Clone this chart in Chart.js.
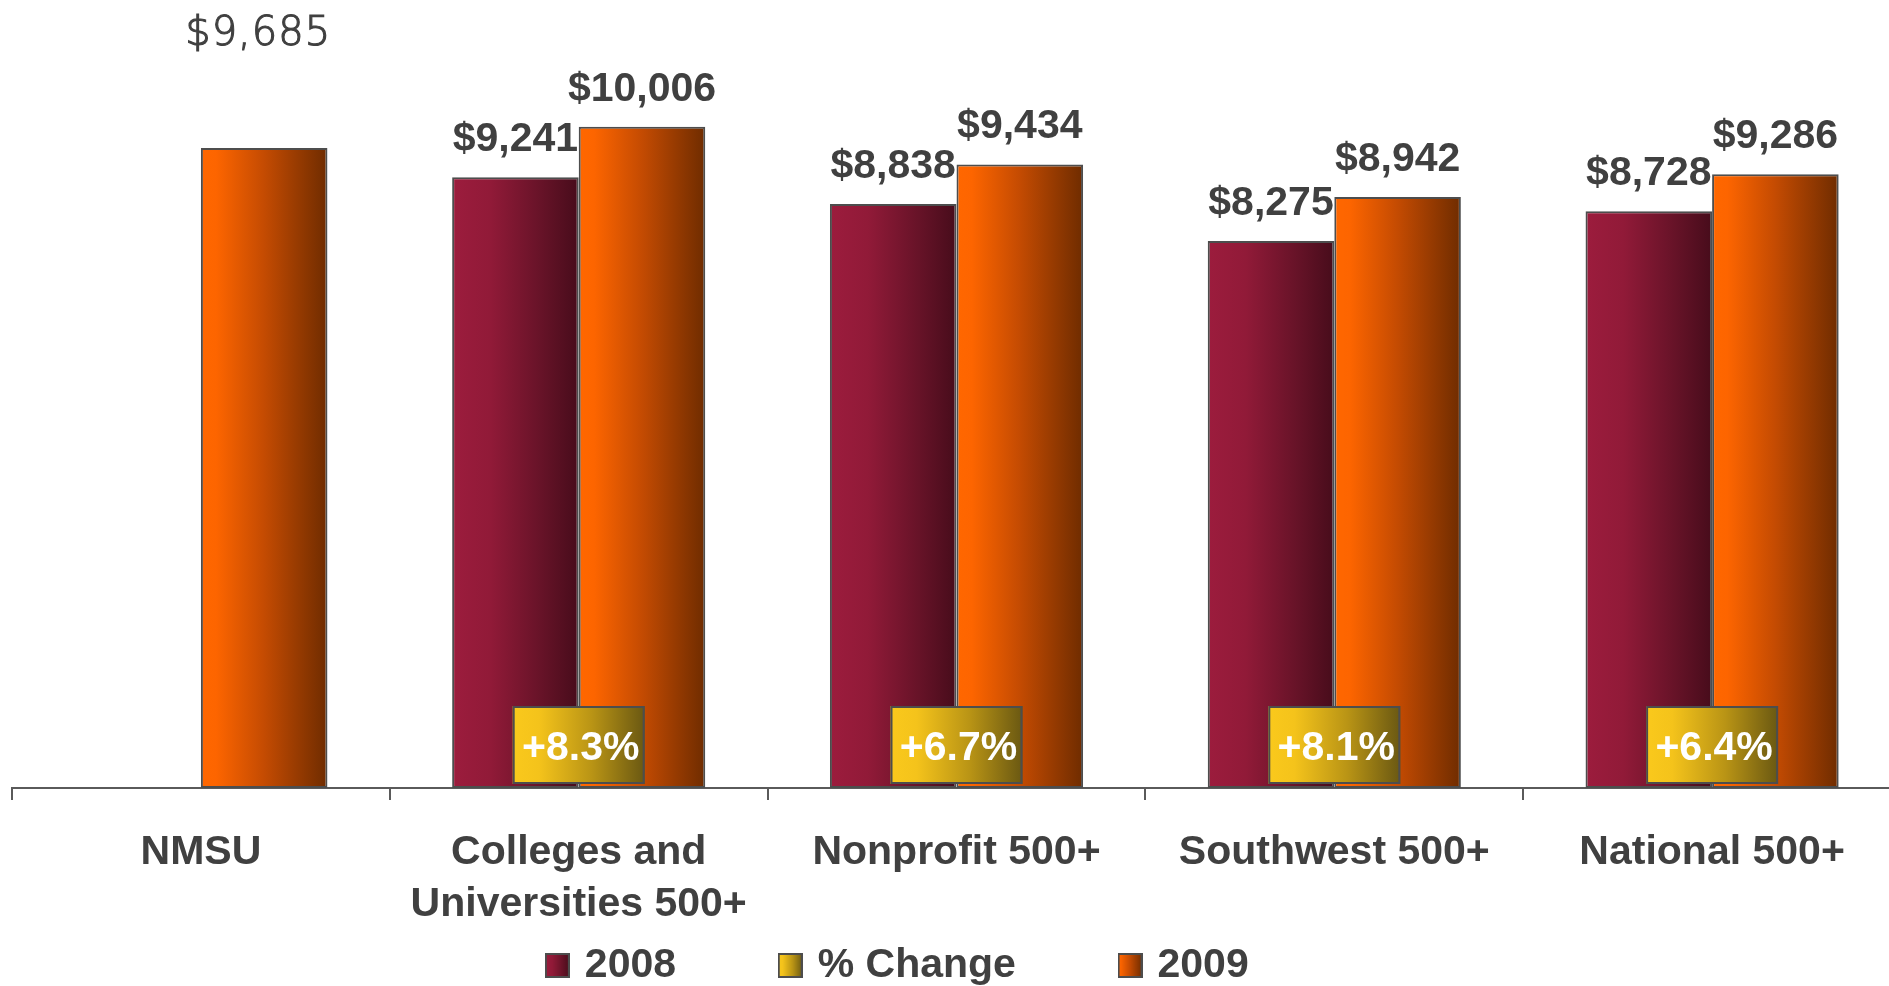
<!DOCTYPE html>
<html>
<head>
<meta charset="utf-8">
<script src="https://cdn.jsdelivr.net/npm/chart.js@4.4.1/dist/chart.umd.min.js"></script>
<style>
  html, body { margin: 0; padding: 0; background: #ffffff; overflow: hidden; }
  #wrap { width: 1901px; height: 996px; }
</style>
</head>
<body>
<div id="wrap"><canvas id="c" width="1901" height="996"></canvas></div>
<script>
// ---- data ----
const categories = ['NMSU', ['Colleges and', 'Universities 500+'], 'Nonprofit 500+', 'Southwest 500+', 'National 500+'];
const seriesNames = ['2008', '% Change', '2009'];
const values2008 = [null, 9241, 8838, 8275, 8728];
const values2009 = [9685, 10006, 9434, 8942, 9286];
const pctChange = [null, 8.3, 6.7, 8.1, 6.4];

// ---- styles ----
const FONT = '"Liberation Sans", Arial, sans-serif';
const TEXT = '#404040';
const EDGE = '#4d4d4d';
const CAT_PCT = 0.67, BAR_PCT = 1.0;
const maroonStops = [[0, '#9c1c3d'], [0.3, '#911a38'], [0.7, '#671328'], [1, '#470c1b']];
const orangeStops = [[0, '#ff6700'], [0.12, '#fd6500'], [0.5, '#c44b02'], [1, '#6f2c00']];
const yellowStops = [[0, '#fac91c'], [0.2, '#f4c31b'], [0.6, '#b99415'], [1, '#6a5812']];

function barFill(stops, slot) {
  return (ctx) => {
    const chart = ctx.chart;
    const xs = chart.scales && chart.scales.x;
    if (!chart.chartArea || !xs || ctx.dataIndex === undefined) return stops[0][1];
    const n = chart.data.labels.length;
    const cw = (xs.right - xs.left) / n;
    const bw = cw * CAT_PCT * BAR_PCT / 2;
    const c = xs.getPixelForValue(ctx.dataIndex);
    const x0 = slot === 0 ? c - bw : c;
    const g = chart.ctx.createLinearGradient(x0, 0, x0 + bw, 0);
    stops.forEach(([o, col]) => g.addColorStop(o, col));
    return g;
  };
}

function legendSwatch(stops) {
  const s = 25;
  const cv = document.createElement('canvas');
  cv.width = s; cv.height = s;
  const c = cv.getContext('2d');
  const g = c.createLinearGradient(0, 0, s, 0);
  stops.forEach(([o, col]) => g.addColorStop(o, col));
  c.fillStyle = g; c.fillRect(0, 0, s, s);
  c.strokeStyle = EDGE; c.lineWidth = 2; c.strokeRect(1, 1, s - 2, s - 2);
  return cv;
}
const swatches = [legendSwatch(maroonStops), legendSwatch(yellowStops), legendSwatch(orangeStops)];
const legendPad = ['        ', '        ', '          '];

const labelsPlugin = {
  id: 'valueLabels',
  afterDatasetsDraw(chart) {
    const ctx = chart.ctx;
    const area = chart.chartArea;
    // bar value labels
    [0, 2].forEach(di => {
      const meta = chart.getDatasetMeta(di);
      const data = chart.data.datasets[di].data;
      meta.data.forEach((el, i) => {
        const v = data[i];
        if (v === null || v === undefined) return;
        const txt = '$' + v.toLocaleString('en-US');
        ctx.save();
        ctx.fillStyle = TEXT;
        ctx.textAlign = 'center';
        ctx.textBaseline = 'alphabetic';
        if (i === 0) {
          ctx.font = '200 40px "DejaVu Sans", sans-serif';
          try { ctx.letterSpacing = '1px'; } catch (e) {}
          ctx.strokeStyle = TEXT;
          ctx.lineWidth = 1.1;
          ctx.fillText(txt, el.x - 6, area.top - 16);
          ctx.strokeText(txt, el.x - 6, area.top - 16);
        } else {
          ctx.font = 'bold 41px ' + FONT;
          ctx.fillText(txt, el.x, el.y - 26);
        }
        ctx.restore();
      });
    });
    // % change boxes
    const pm = chart.getDatasetMeta(1);
    const y0 = chart.scales.y.getPixelForValue(0);
    pm.data.forEach((el, i) => {
      const v = pctChange[i];
      if (v === null || v === undefined) return;
      const w = 132, h = 78;
      const x0 = el.x - w / 2, yb = y0 - 4, yt = yb - h;
      ctx.save();
      const g = ctx.createLinearGradient(x0, 0, x0 + w, 0);
      yellowStops.forEach(([o, col]) => g.addColorStop(o, col));
      ctx.fillStyle = g;
      ctx.fillRect(x0, yt, w, h);
      ctx.strokeStyle = EDGE; ctx.lineWidth = 2;
      ctx.strokeRect(x0 + 1, yt + 1, w - 2, h - 2);
      ctx.fillStyle = '#ffffff';
      ctx.font = 'bold 41px ' + FONT;
      ctx.textAlign = 'center';
      ctx.textBaseline = 'alphabetic';
      ctx.fillText('+' + v.toFixed(1) + '%', el.x + 2, yt + h / 2 + 15);
      ctx.restore();
    });
  }
};

new Chart(document.getElementById('c'), {
  type: 'bar',
  data: {
    labels: categories,
    datasets: [
      { label: seriesNames[0], data: values2008, backgroundColor: barFill(maroonStops, 0),
        borderColor: EDGE, borderWidth: 2, borderSkipped: false,
        categoryPercentage: CAT_PCT, barPercentage: BAR_PCT },
      { label: seriesNames[1], data: pctChange, yAxisID: 'yPct', grouped: false,
        backgroundColor: 'rgba(0,0,0,0)', borderWidth: 0 },
      { label: seriesNames[2], data: values2009, backgroundColor: barFill(orangeStops, 1),
        borderColor: EDGE, borderWidth: 2, borderSkipped: false,
        categoryPercentage: CAT_PCT, barPercentage: BAR_PCT }
    ]
  },
  options: {
    responsive: false,
    animation: false,
    devicePixelRatio: 1,
    layout: { padding: { top: 61, left: 12, right: 0, bottom: 0 } },
    plugins: {
      tooltip: { enabled: false },
      legend: {
        position: 'bottom',
        labels: {
          usePointStyle: true,
          boxWidth: 14,
          boxHeight: 14,
          padding: 16,
          color: TEXT,
          font: { family: FONT, size: 41, weight: 'bold' },
          generateLabels: (chart) => chart.data.datasets.map((ds, i) => ({
            text: ds.label + legendPad[i],
            fillStyle: '#000',
            strokeStyle: '#000',
            lineWidth: 0,
            pointStyle: swatches[i],
            hidden: false,
            datasetIndex: i,
            fontColor: TEXT
          }))
        }
      }
    },
    scales: {
      x: {
        grid: { display: true, drawOnChartArea: false, drawTicks: true, tickLength: 12,
                color: '#5a5a5a', lineWidth: 2, offset: true },
        border: { display: true, color: '#5a5a5a', width: 2 },
        ticks: { color: TEXT, font: { family: FONT, size: 41, weight: 'bold', lineHeight: 52 / 41 },
                 padding: 27, maxRotation: 0, minRotation: 0, autoSkip: false },
        afterFit: (s) => { s.height = 141; }
      },
      y: { display: false, min: 0, max: 11000 },
      yPct: { display: false, min: 0, max: 1000 }
    }
  },
  plugins: [labelsPlugin]
});
</script>
</body>
</html>
